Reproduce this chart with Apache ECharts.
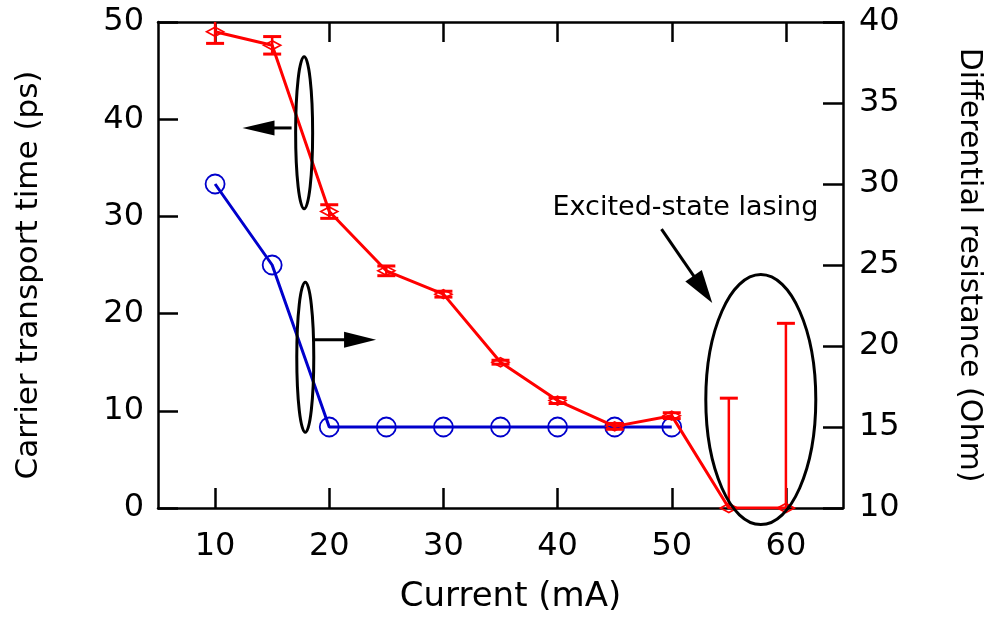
<!DOCTYPE html>
<html><head><meta charset="utf-8">
<script src="https://cdn.jsdelivr.net/npm/echarts@6/dist/echarts.min.js"></script>
<style>html,body{margin:0;padding:0;background:#fff}#c{width:992px;height:620px}</style>
</head><body><div id="c"></div>
<script>
// ---- data ----
const currents = [10, 15, 20, 25, 30, 35, 40, 45, 50, 55, 60];
const transportTime = [49.0, 47.6, 30.5, 24.4, 22.0, 15.0, 11.05, 8.4, 9.5, 0, 0];
const transportErr = [1.2, 0.9, 0.7, 0.5, 0.3, 0.2, 0.3, 0.3, 0.3, 11.3, 19.0];
const resCurrents = [10, 15, 20, 25, 30, 35, 40, 45, 50];
const resistance = [30, 25, 15, 15, 15, 15, 15, 15, 15];
const xTicks = [10, 20, 30, 40, 50, 60];
const xLabel = 'Current (mA)';
const yLeftLabel = 'Carrier transport time (ps)';
const yRightLabel = 'Differential resistance (Ohm)';
const noteText = 'Excited-state lasing';

const FONT = '"DejaVu Sans", sans-serif';
const RED = '#ff0000', BLUE = '#0000cc';

const redData = currents.map((c, i) => [c, transportTime[i]]);
const errData = currents.map((c, i) => [c, transportTime[i], transportErr[i]]);
const blueData = resCurrents.map((c, i) => [c, resistance[i]]);

const chart = echarts.init(document.getElementById('c'));
const axisLine = {show: true, lineStyle: {color: '#000', width: 2.5}};
const tick = {show: true, inside: true, length: 20, lineStyle: {color: '#000', width: 2.5}};

chart.setOption({
  animation: false,
  backgroundColor: '#fff',
  grid: {left: 158, right: 146, top: 22, bottom: 112, containLabel: false},
  xAxis: [{
    type: 'value', min: 5, max: 65, position: 'bottom',
    axisLine, axisTick: Object.assign({customValues: xTicks}, tick),
    splitLine: {show: false},
    axisLabel: {customValues: xTicks, fontFamily: FONT, fontSize: 32, color: '#000', margin: 23},
    name: xLabel, nameLocation: 'middle', nameGap: 72,
    nameTextStyle: {fontFamily: FONT, fontSize: 34, color: '#000', padding: [0, 0, 0, 20]}
  }, {
    type: 'value', min: 5, max: 65, position: 'top',
    axisLine, axisTick: Object.assign({customValues: xTicks}, tick),
    splitLine: {show: false}, axisLabel: {show: false}
  }],
  yAxis: [{
    type: 'value', min: 0, max: 50, interval: 10, position: 'left',
    axisLine, axisTick: tick, splitLine: {show: false},
    axisLabel: {fontFamily: FONT, fontSize: 32, color: '#000', margin: 14},
    name: yLeftLabel, nameLocation: 'middle', nameGap: 114, nameRotate: 90,
    nameTextStyle: {fontFamily: FONT, fontSize: 31, color: '#000', padding: [0, 20, 0, 0]}
  }, {
    type: 'value', min: 10, max: 40, interval: 5, position: 'right',
    axisLine, axisTick: tick, splitLine: {show: false},
    axisLabel: {fontFamily: FONT, fontSize: 32, color: '#000', margin: 16},
    name: yRightLabel, nameLocation: 'middle', nameGap: 111, nameRotate: -90,
    nameTextStyle: {fontFamily: FONT, fontSize: 30, color: '#000'}
  }],
  series: [{
    type: 'line', name: 'transport', xAxisIndex: 0, yAxisIndex: 0, data: redData,
    symbol: 'diamond', symbolSize: [17, 9], z: 4,
    lineStyle: {color: RED, width: 3},
    itemStyle: {color: 'rgba(0,0,0,0)', borderColor: RED, borderWidth: 1.8}
  }, {
    type: 'custom', name: 'err', xAxisIndex: 0, yAxisIndex: 0, data: errData, clip: true, z: 5,
    renderItem: function (params, api) {
      const x = api.value(0), y = api.value(1), e = api.value(2);
      const t = api.coord([x, y + e]), b = api.coord([x, y - e]);
      const hw = 9, st = {stroke: RED, lineWidth: 3};
      return {type: 'group', children: [
        {type: 'line', shape: {x1: t[0], y1: t[1], x2: b[0], y2: b[1]}, style: {stroke: RED, lineWidth: 2.5}},
        {type: 'line', shape: {x1: t[0] - hw, y1: t[1], x2: t[0] + hw, y2: t[1]}, style: st},
        {type: 'line', shape: {x1: b[0] - hw, y1: b[1], x2: b[0] + hw, y2: b[1]}, style: st}
      ]};
    }
  }, {
    type: 'line', name: 'resistance', xAxisIndex: 0, yAxisIndex: 1, data: blueData,
    symbol: 'circle', symbolSize: 19, z: 3,
    lineStyle: {color: BLUE, width: 3},
    itemStyle: {color: 'rgba(0,0,0,0)', borderColor: BLUE, borderWidth: 1.8}
  }]
});

// ---- annotations (anchored in data units of left axis) ----
const P = (x, y) => chart.convertToPixel({seriesIndex: 0}, [x, y]);
function arrow(tail, tip, headLen, headHalf, lw) {
  const dx = tip[0] - tail[0], dy = tip[1] - tail[1], L = Math.hypot(dx, dy);
  const ux = dx / L, uy = dy / L, bx = tip[0] - ux * headLen, by = tip[1] - uy * headLen;
  const px = -uy, py = ux;
  return [
    {type: 'line', shape: {x1: tail[0], y1: tail[1], x2: bx + ux * 2, y2: by + uy * 2}, style: {stroke: '#000', lineWidth: lw}},
    {type: 'polygon', shape: {points: [[tip[0], tip[1]], [bx + px * headHalf, by + py * headHalf], [bx - px * headHalf, by - py * headHalf]]}, style: {fill: '#000'}}
  ];
}
function ell(c, rx, ry) {
  return {type: 'ellipse', shape: {cx: c[0], cy: c[1], rx: rx, ry: ry}, style: {fill: 'none', stroke: '#000', lineWidth: 3}};
}
const e1 = P(17.8, 38.6), e2 = P(17.9, 15.5), e3 = P(57.8, 11.15);
const txt = P(51.2, 30.9);
const elems = [
  ell(e1, 8.5, 76), ell(e2, 8.5, 75), ell(e3, 55, 125),
  ...arrow(P(16.7, 39.1), P(12.4, 39.1), 32, 7.5, 3),
  ...arrow(P(18.5, 17.3), P(24.1, 17.3), 32, 8, 3),
  ...arrow(P(49.1, 28.7), P(53.55, 21.1), 33, 10, 3),
  {type: 'text', x: txt[0], y: txt[1],
   style: {text: noteText, font: '27px ' + FONT, fill: '#000', align: 'center', verticalAlign: 'middle'}}
];
chart.setOption({graphic: elems.map(e => Object.assign({z: 10}, e))});
</script></body></html>
